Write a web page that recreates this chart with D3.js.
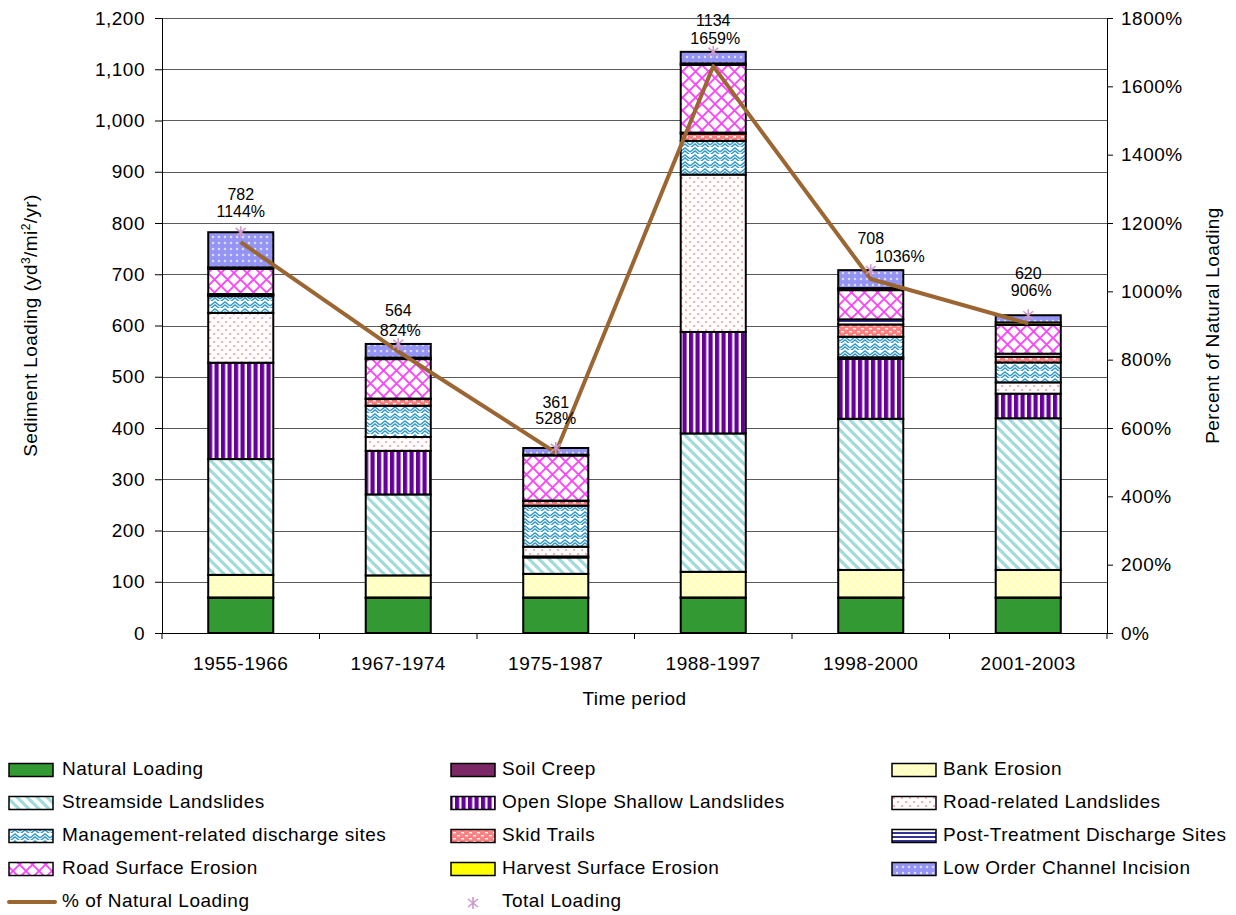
<!DOCTYPE html>
<html>
<head>
<meta charset="utf-8">
<script src="https://cdn.jsdelivr.net/npm/d3@7"></script>
<style>
  body { margin: 0; background: #fff; }
  svg text { font-family: "Liberation Sans", Arial, sans-serif; fill: #000; }
</style>
</head>
<body>
<svg id="chart" width="1236" height="915"></svg>
<script>
// ---- data (yd3/mi2/yr by source, per time period) ----
const periods = ["1955-1966", "1967-1974", "1975-1987", "1988-1997", "1998-2000", "2001-2003"];

const sourceNames = [
  "Natural Loading", "Soil Creep", "Bank Erosion",
  "Streamside Landslides", "Open Slope Shallow Landslides", "Road-related Landslides",
  "Management-related discharge sites", "Skid Trails", "Post-Treatment Discharge Sites",
  "Road Surface Erosion", "Harvest Surface Erosion", "Low Order Channel Incision"
];

const naturalLoading         = [68.4, 68.4, 68.4, 68.4, 68.4, 68.4];
const soilCreep              = [1, 1, 1, 1, 1, 1];
const bankErosion            = [44, 43, 46, 50, 53.6, 53.6];
const streamsideLandslides   = [226, 158, 32, 270, 295, 296];
const openSlopeLandslides    = [188, 85, 2, 198, 117, 48];
const roadRelatedLandslides  = [97, 27, 19, 307, 3, 22];
const managementDischarge    = [33, 61, 80, 66, 40, 39];
const skidTrails             = [2, 13, 9, 14, 24, 11];
const postTreatmentDischarge = [2, 1, 1, 2, 10, 6];
const roadSurfaceErosion     = [49, 77, 88, 132, 57, 56];
const harvestSurfaceErosion  = [3, 3, 1.5, 3, 4, 5];
const lowOrderIncision       = [68.6, 26.6, 13.1, 22.6, 35, 14];

const totalLoading     = [782, 564, 361, 1134, 708, 620];
const percentOfNatural = [1144, 824, 528, 1659, 1036, 906];

const leftTicks  = [0, 100, 200, 300, 400, 500, 600, 700, 800, 900, 1000, 1100, 1200];
const rightTicks = [0, 200, 400, 600, 800, 1000, 1200, 1400, 1600, 1800];

const seriesValues = [
  naturalLoading, soilCreep, bankErosion, streamsideLandslides, openSlopeLandslides,
  roadRelatedLandslides, managementDischarge, skidTrails, postTreatmentDischarge,
  roadSurfaceErosion, harvestSurfaceErosion, lowOrderIncision
];

// ---- layout ----
const plot = { left: 162, right: 1107, top: 18, bottom: 633 };
// per-label nudges for the value labels (pixels)
const totalLabelDy = [-36, -32, -44, -30, -30, -40];
const pctLabelDy   = [-19, -12, -28, -12, -12, -23];
const pctLabelDx   = [0, 2, 0, 2, 29, 3];

const svg = d3.select("#chart");
const defs = svg.append("defs");

// ---- fill patterns ----
function pattern(id, w, h, bg) {
  const p = defs.append("pattern").attr("id", id)
    .attr("patternUnits", "userSpaceOnUse").attr("width", w).attr("height", h);
  if (bg) p.append("rect").attr("width", w).attr("height", h).attr("fill", bg);
  return p;
}
// bank erosion: pale yellow with faint white dots
let p = pattern("pBank", 8, 8, "#FFFFC0");
p.append("circle").attr("cx", 2).attr("cy", 2).attr("r", 0.9).attr("fill", "#fff");
p.append("circle").attr("cx", 6).attr("cy", 6).attr("r", 0.9).attr("fill", "#fff");
// streamside: cyan downward diagonals
p = pattern("pStream", 10, 10, "#fff");
p.append("path").attr("d", "M-3,-3L13,13M-3,7L3,13M7,-3L13,3")
  .attr("stroke", "#A0DCDC").attr("stroke-width", 3.2);
// open slope: purple vertical stripes
p = pattern("pOpen", 6.5, 10, "#fff");
p.append("rect").attr("width", 4.2).attr("height", 10).attr("fill", "#660099");
// road-related: sparse pink dots
p = pattern("pRoadRel", 8, 8, "#fff");
p.append("circle").attr("cx", 2).attr("cy", 2).attr("r", 1.1).attr("fill", "#FF9C9C");
p.append("circle").attr("cx", 6).attr("cy", 6).attr("r", 1.1).attr("fill", "#FF9C9C");
// management-related: blue zigzag weave
p = pattern("pMgmt", 10, 7, "#fff");
p.append("path").attr("d", "M0,5L5,1L10,5M0,8L5,4L10,8").attr("fill", "none")
  .attr("stroke", "#3399CC").attr("stroke-width", 1.4);
// skid trails: salmon with white dashes
p = pattern("pSkid", 8, 6, "#FF8080");
p.append("rect").attr("x", 1).attr("y", 1).attr("width", 3).attr("height", 1.4).attr("fill", "#fff");
p.append("rect").attr("x", 5).attr("y", 4).attr("width", 3).attr("height", 1.4).attr("fill", "#fff");
// post-treatment: navy horizontal lines
p = pattern("pPost", 6, 4, "#fff");
p.append("rect").attr("width", 6).attr("height", 2).attr("fill", "#333399");
// road surface: magenta diagonal lattice
p = pattern("pRoadSurf", 13, 13, "#fff");
p.append("path").attr("d", "M0,0L13,13M13,0L0,13").attr("stroke", "#FF40FF").attr("stroke-width", 1.8);
// low order channel incision: lavender with white specks
p = pattern("pLow", 6, 6, "#9494F4");
p.append("path").attr("d", "M1.5,3L3,1.5L4.5,3L3,4.5Z").attr("fill", "#fff").attr("opacity", 0.75);

const fills = [
  "#339933", "#7D2866", "url(#pBank)", "url(#pStream)", "url(#pOpen)", "url(#pRoadRel)",
  "url(#pMgmt)", "url(#pSkid)", "url(#pPost)", "url(#pRoadSurf)", "#FFFF00", "url(#pLow)"
];

// ---- scales ----
const x = d3.scaleBand().domain(periods).range([plot.left, plot.right])
  .paddingInner(0.587).paddingOuter(0.2935);
const y = d3.scaleLinear().domain([0, 1200]).range([plot.bottom, plot.top]);
const yPct = d3.scaleLinear().domain([0, 1800]).range([plot.bottom, plot.top]);

// ---- gridlines ----
svg.append("g").selectAll("line").data(leftTicks.filter(d => d > 0)).join("line")
  .attr("x1", plot.left).attr("x2", plot.right)
  .attr("y1", d => Math.round(y(d)) + 0.5).attr("y2", d => Math.round(y(d)) + 0.5)
  .attr("stroke", "#5a5a5a").attr("stroke-width", 1);

// ---- stacked bars ----
const rows = periods.map((period, i) => {
  const r = { period };
  sourceNames.forEach((name, k) => { r[name] = seriesValues[k][i]; });
  return r;
});
const stacked = d3.stack().keys(sourceNames)(rows);

svg.append("g").selectAll("g").data(stacked).join("g")
  .attr("fill", (d, k) => fills[k])
  .selectAll("rect").data(d => d).join("rect")
  .attr("x", d => x(d.data.period))
  .attr("width", x.bandwidth())
  .attr("y", d => y(d[1]))
  .attr("height", d => y(d[0]) - y(d[1]))
  .attr("stroke", "#000").attr("stroke-width", 2);

// ---- axes ----
const tickFont = g => g.selectAll("text")
  .style("font-size", "19px").style("letter-spacing", "0.5px")
  .style("font-family", "'Liberation Sans', Arial, sans-serif");

const axLeft = svg.append("g").attr("transform", `translate(${plot.left},0)`)
  .call(d3.axisLeft(y).tickValues(leftTicks).tickFormat(d3.format(",")).tickSize(7).tickPadding(10));
axLeft.call(tickFont);
axLeft.selectAll("path,line").attr("stroke", "#000");

const axRight = svg.append("g").attr("transform", `translate(${plot.right},0)`)
  .call(d3.axisRight(yPct).tickValues(rightTicks).tickFormat(d => d + "%").tickSize(6).tickPadding(8));
axRight.call(tickFont);
axRight.selectAll("path,line").attr("stroke", "#000");

const axBottom = svg.append("g").attr("transform", `translate(0,${plot.bottom})`)
  .call(d3.axisBottom(x).tickSize(0).tickPadding(24));
axBottom.call(tickFont);
axBottom.select(".domain").attr("stroke", "#000");
// tick marks between categories
svg.append("g").selectAll("line")
  .data(d3.range(periods.length + 1))
  .join("line")
  .attr("x1", i => plot.left + i * x.step()).attr("x2", i => plot.left + i * x.step())
  .attr("y1", plot.bottom).attr("y2", plot.bottom + 6)
  .attr("stroke", "#000");

// ---- axis titles ----
const leftTitle = svg.append("text")
  .attr("transform", `translate(37,${(plot.top + plot.bottom) / 2}) rotate(-90)`)
  .attr("text-anchor", "middle").style("font-size", "19px").style("letter-spacing", "0.4px");
leftTitle.append("tspan").text("Sediment Loading (yd");
leftTitle.append("tspan").attr("baseline-shift", "super").style("font-size", "12px").text("3");
leftTitle.append("tspan").text("/mi");
leftTitle.append("tspan").attr("baseline-shift", "super").style("font-size", "12px").text("2");
leftTitle.append("tspan").text("/yr)");

svg.append("text")
  .attr("transform", `translate(1219,${(plot.top + plot.bottom) / 2}) rotate(-90)`)
  .attr("text-anchor", "middle").style("font-size", "19px").style("letter-spacing", "0.4px")
  .text("Percent of Natural Loading");

svg.append("text").attr("x", (plot.left + plot.right) / 2).attr("y", 705)
  .attr("text-anchor", "middle").style("font-size", "19px").style("letter-spacing", "0.4px")
  .text("Time period");

// ---- percent-of-natural line ----
const cx = d => x(d) + x.bandwidth() / 2;
svg.append("path")
  .datum(periods.map((d, i) => [cx(d), yPct(percentOfNatural[i])]))
  .attr("d", d3.line())
  .attr("fill", "none").attr("stroke", "#9C6633").attr("stroke-width", 4)
  .attr("stroke-linejoin", "round");

// ---- total loading markers ----
const star = "M0,-6V6M-5,-4L5,4M-5,4L5,-4";
svg.append("g").selectAll("path").data(periods).join("path")
  .attr("transform", (d, i) => `translate(${cx(d)},${y(totalLoading[i])})`)
  .attr("d", star).attr("fill", "none").attr("stroke", "#CC99CC").attr("stroke-width", 1.6);

// ---- value labels ----
const labels = svg.append("g").style("font-size", "16px").attr("text-anchor", "middle");
labels.selectAll("text.tot").data(periods).join("text").attr("class", "tot")
  .attr("x", d => cx(d))
  .attr("y", (d, i) => y(totalLoading[i]) + totalLabelDy[i])
  .attr("dominant-baseline", "middle")
  .text((d, i) => totalLoading[i]);
labels.selectAll("text.pct").data(periods).join("text").attr("class", "pct")
  .attr("x", (d, i) => cx(d) + pctLabelDx[i])
  .attr("y", (d, i) => y(totalLoading[i]) + pctLabelDy[i])
  .attr("dominant-baseline", "middle")
  .text((d, i) => percentOfNatural[i] + "%");

// ---- legend ----
const legendCols = [{ sw: 9, tx: 62 }, { sw: 451, tx: 502 }, { sw: 892, tx: 943 }];
const legendRowY = [770, 803, 836, 869, 902];
const legend = svg.append("g").style("font-size", "19px").style("letter-spacing", "0.5px");
sourceNames.forEach((name, k) => {
  const col = legendCols[k % 3], ry = legendRowY[Math.floor(k / 3)];
  legend.append("rect").attr("x", col.sw).attr("y", ry - 6.5).attr("width", 44).attr("height", 13)
    .attr("fill", fills[k]).attr("stroke", "#000").attr("stroke-width", 1.5);
  legend.append("text").attr("x", col.tx).attr("y", ry).attr("dominant-baseline", "middle").text(name);
});
legend.append("line").attr("x1", 9).attr("x2", 55).attr("y1", 902).attr("y2", 902)
  .attr("stroke", "#9C6633").attr("stroke-width", 4).attr("stroke-linecap", "round");
legend.append("text").attr("x", legendCols[0].tx).attr("y", 902).attr("dominant-baseline", "middle")
  .text("% of Natural Loading");
legend.append("path").attr("transform", "translate(473,903)").attr("d", star)
  .attr("fill", "none").attr("stroke", "#CC99CC").attr("stroke-width", 1.6);
legend.append("text").attr("x", legendCols[1].tx).attr("y", 902).attr("dominant-baseline", "middle")
  .text("Total Loading");
</script>
</body>
</html>
